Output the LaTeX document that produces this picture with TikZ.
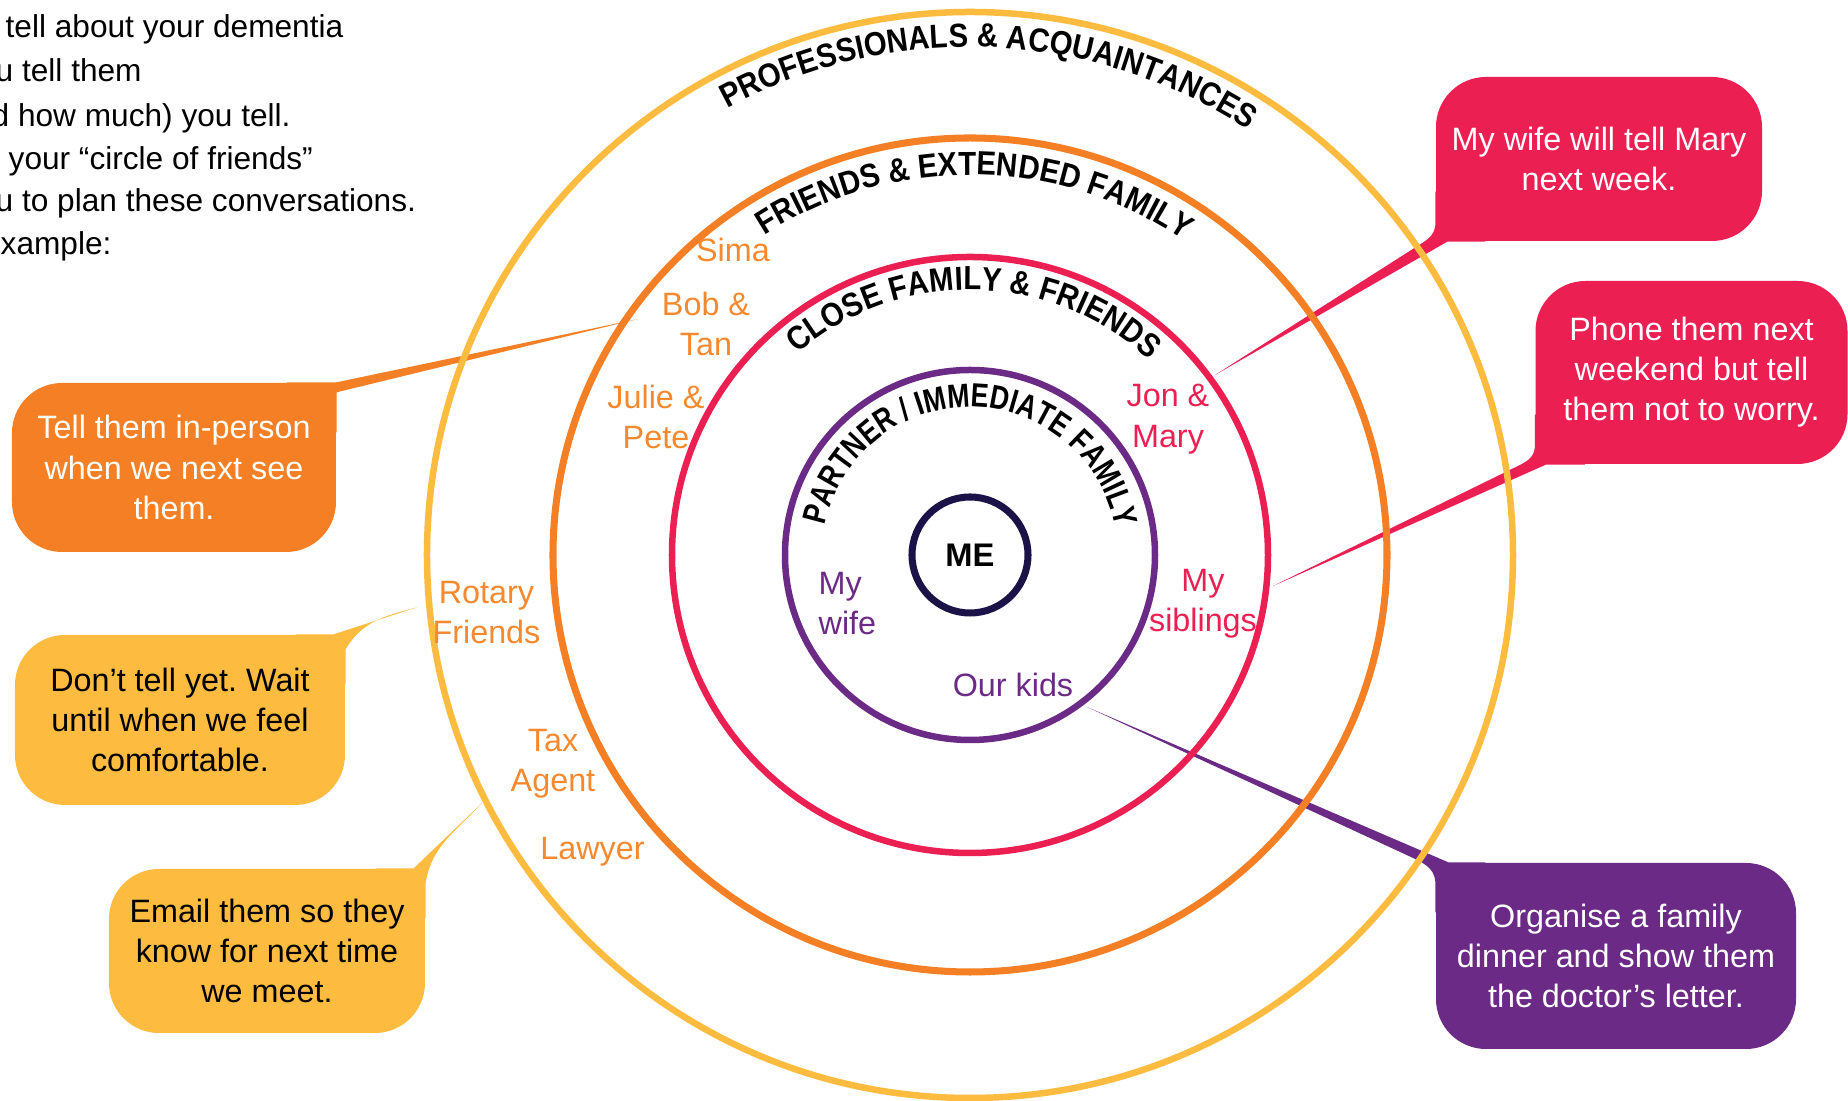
\documentclass[tikz,border=0pt]{standalone}
\usepackage{fontspec}
\setmainfont{Liberation Sans}
\newfontfamily\arcfam[FakeStretch=0.88]{Liberation Sans}
\newfontfamily\innerarcfam[FakeStretch=0.8]{Liberation Sans}
\usetikzlibrary{decorations.text,backgrounds,calc}
\frenchspacing

\definecolor{ringyellow}{HTML}{FDBB40}
\definecolor{ringorange}{HTML}{F47F24}
\definecolor{ringred}{HTML}{EC1F52}
\definecolor{ringpurple}{HTML}{6B2A86}
\definecolor{menavy}{HTML}{1B1247}
\definecolor{nameorange}{HTML}{F6892E}

\newcommand{\advicefont}{\fontsize{9.2}{11.4}\selectfont}
\newcommand{\introfont}{\fontsize{9.0}{12.3}\selectfont}
\newcommand{\arcfont}{\arcfam\bfseries\fontsize{9.5}{11}\selectfont}
\newcommand{\innerarcfont}{\innerarcfam\bfseries\fontsize{9.5}{11}\selectfont}

\tikzset{
  ringline/.style={circle, draw=#1, line width=1.85pt, inner sep=0pt},
  advice/.style={fill=#1, rounded corners=0.5cm, inner sep=0pt, align=center, font=\advicefont},
  person/.style={text=#1, align=center, inner sep=0pt, font=\advicefont},
  intro/.style={anchor=base west, inner sep=0pt, font=\introfont},
  arclabel/.style 2 args={decorate, decoration={text along path, text align=center, text={|#1|#2}}}
}

\begin{document}
\begin{tikzpicture}
\useasboundingbox (-9.70,-5.46) rectangle (8.78,5.55);
\clip (-9.70,-5.46) rectangle (8.78,5.55);

% text at the top left, cut off by the page edge
\node[intro] (intro1) at (-9.65,5.17) {tell about your dementia};
\node[intro] (intro2) at (-9.75,4.73) {u tell them};
\node[intro] (intro3) at (-9.79,4.28) {d how much) you tell.};
\node[intro] (intro4) at (-9.62,3.85) {your “circle of friends”};
\node[intro] (intro5) at (-9.75,3.43) {u to plan these conversations.};
\node[intro] (intro6) at (-9.70,3.00) {xample:};

% callouts
\node[advice=ringorange, text=white, minimum width=3.24cm, minimum height=1.69cm] (inperson) at (-7.96,0.875) {Tell them in-person\\when we next see\\them.};
\node[advice=ringyellow, minimum width=3.30cm, minimum height=1.70cm] (notyet) at (-7.90,-1.65) {Don’t tell yet. Wait\\until when we feel\\comfortable.};
\node[advice=ringyellow, minimum width=3.16cm, minimum height=1.64cm] (email) at (-7.03,-3.96) {Email them so they\\know for next time\\we meet.};
\node[advice=ringred, text=white, minimum width=3.26cm, minimum height=1.64cm] (marynext) at (6.29,3.96) {My wife will tell Mary\\next week.};
\node[advice=ringred, text=white, minimum width=3.12cm, minimum height=1.83cm] (phone) at (7.215,1.825) {Phone them next\\weekend but tell\\them not to worry.};
\node[advice=ringpurple, text=white, minimum width=3.60cm, minimum height=1.86cm] (dinner) at (6.46,-4.01) {Organise a family\\dinner and show them\\the doctor’s letter.};

\coordinate (inpersontip) at (-3.32,2.36);
\coordinate (notyettip) at (-5.52,-0.52);
\coordinate (emailtip) at (-4.88,-2.48);
\coordinate (marytip) at (2.45,1.80);
\coordinate (phonetip) at (3.03,-0.31);
\coordinate (dinnertip) at (1.17,-1.52);

% pointers, behind the boxes
\begin{scope}[on background layer]
\fill[ringorange] (inperson.north east) rectangle +(-0.5,-0.5)
  (inperson.north east) -- (inpersontip) -- ([yshift=-0.10cm]inperson.north east) -- cycle;
\fill[ringyellow] (notyet.north east) rectangle +(-0.5,-0.5)
  ([xshift=-0.12cm]notyet.north east) -- (notyettip) to[out=195,in=60] ([yshift=-0.15cm]notyet.north east) -- (notyet.north east) -- cycle;
\fill[ringyellow] (email.north east) rectangle +(-0.5,-0.5)
  ([xshift=-0.12cm]email.north east) -- (emailtip) to[out=228,in=80] ([yshift=-0.14cm]email.north east) -- (email.north east) -- cycle;
\fill[ringred] (marynext.south west) rectangle +(0.5,0.5)
  ([xshift=0.12cm]marynext.south west) -- (marytip) -- ($(marytip)!0.93!([yshift=0.07cm]marynext.south west)$)
  to[out=32,in=262] ([yshift=0.16cm]marynext.south west) -- (marynext.south west) -- cycle;
\fill[ringred] (phone.south west) rectangle +(0.5,0.5)
  ([xshift=0.11cm]phone.south west) -- (phonetip) -- ($(phonetip)!0.93!([yshift=0.07cm]phone.south west)$)
  to[out=26,in=265] ([yshift=0.17cm]phone.south west) -- (phone.south west) -- cycle;
\fill[ringpurple] (dinner.north west) rectangle +(0.5,-0.5)
  ([xshift=0.13cm]dinner.north west) -- (dinnertip) -- ($(dinnertip)!0.93!([yshift=-0.06cm]dinner.north west)$)
  to[out=-25,in=95] ([yshift=-0.19cm]dinner.north west) -- (dinner.north west) -- cycle;
\end{scope}

% the circles
\node[ringline=ringyellow, minimum size=10.86cm] (acquaint) at (0,0) {};
\node[ringline=ringorange, minimum size=8.34cm, line width=2pt] (extended) at (0,0) {};
\node[ringline=ringred, minimum size=5.96cm] (closefam) at (0,0) {};
\node[ringline=ringpurple, minimum size=3.70cm] (immediate) at (0,0) {};
\node[ringline=menavy, minimum size=1.16cm, line width=2pt, font=\bfseries\fontsize{9.3}{11}\selectfont] (me) at (0,0) {ME};

% circle titles
\path[arclabel={\arcfont}{PROFESSIONALS {\&} ACQUAINTANCES}] (177.7:5.08) arc[start angle=177.7, end angle=-2.3, radius=5.08];
\path[arclabel={\arcfont}{FRIENDS {\&} EXTENDED FAMILY}] (179.3:3.80) arc[start angle=179.3, end angle=-0.7, radius=3.80];
\path[arclabel={\arcfont}{CLOSE FAMILY {\&} FRIENDS}] (179:2.65) arc[start angle=179, end angle=-1, radius=2.65];
\path[arclabel={\innerarcfont}{PARTNER / IMMEDIATE FAMILY}] (189.5:1.48) arc[start angle=189.5, end angle=-10.5, radius=1.48];

% people
\node[person=nameorange, anchor=base] (sima) at (-2.37,2.93) {Sima};
\node[person=nameorange] (bobtan) at (-2.64,2.315) {Bob \&\\Tan};
\node[person=nameorange] (juliepete) at (-3.14,1.38) {Julie \&\\Pete};
\node[person=nameorange] (rotary) at (-4.835,-0.58) {Rotary\\Friends};
\node[person=nameorange] (tax) at (-4.17,-2.09) {Tax\\Agent};
\node[person=nameorange, anchor=base] (lawyer) at (-3.775,-3.05) {Lawyer};
\node[person=ringred] (jonmary) at (1.98,1.358) {Jon \&\\Mary};
\node[person=ringred] (siblings) at (2.33,-0.49) {My\\siblings};
\node[person=ringpurple, align=left, anchor=west] (wife) at (-1.52,-0.49) {My\\wife};
\node[person=ringpurple, anchor=base] (kids) at (0.43,-1.42) {Our kids};
\end{tikzpicture}
\end{document}
